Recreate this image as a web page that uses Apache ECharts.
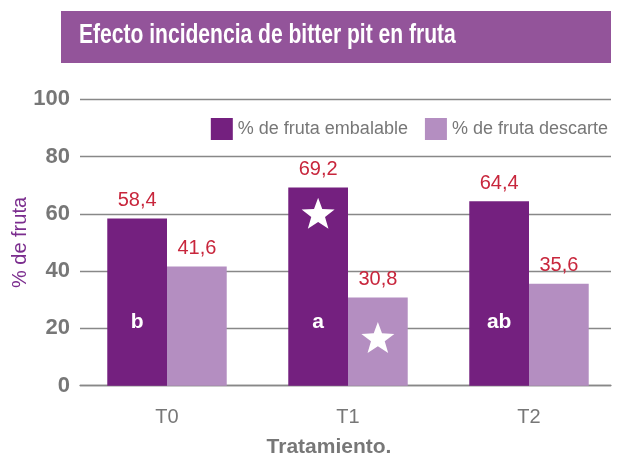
<!DOCTYPE html>
<html>
<head>
<meta charset="utf-8">
<script src="https://cdn.jsdelivr.net/npm/echarts@6/dist/echarts.min.js"></script>
<style>
  html,body{margin:0;padding:0;background:#fff;}
  #main{width:617px;height:455px;}
</style>
</head>
<body>
<div id="main"></div>
<script type="text/javascript">
// chart data
var categories = ['T0', 'T1', 'T2'];
var embalable = [58.4, 69.2, 64.4];
var descarte = [41.6, 30.8, 35.6];
var letters = ['b', 'a', 'ab'];
var letterLevel = 22;
// stars mark the significant treatment: [category, value]
var starEmbalable = [['T1', 60.2]];
var starDescarte = [['T1', 16.8]];

var starPath = 'path://M50,0 L62,33 L98,35 L70,57 L80,92 L50,72 L20,92 L30,57 L2,35 L38,33 Z';
var gray = '#777777';
var lineGray = '#888888';
var font = '"Liberation Sans", Arial, Helvetica, sans-serif';

function fmt(v){ return String(v).replace('.', ','); }

var myChart = echarts.init(document.getElementById('main'));
var option = {
  animation: false,
  textStyle: {fontFamily: font},
  graphic: [
    {type: 'rect', shape: {x: 61, y: 11, width: 550, height: 52}, style: {fill: '#93549a'}},
    {type: 'text', x: 79, y: 36, scaleX: 0.78, style: {
      text: 'Efecto incidencia de bitter pit en fruta', fill: '#ffffff',
      verticalAlign: 'middle',
      font: 'bold 27px ' + font}},
    {type: 'text', x: 329, y: 447, style: {
      text: 'Tratamiento.', fill: gray, align: 'center', verticalAlign: 'middle',
      font: 'bold 21px ' + font}}
  ],
  legend: {
    data: ['% de fruta embalable', '% de fruta descarte'],
    right: 4, top: 113,
    icon: 'rect', itemWidth: 22, itemHeight: 22, itemGap: 17,
    textStyle: {color: gray, fontSize: 18, fontFamily: font}
  },
  grid: [
    {left: 80, right: 6, top: 99.3, bottom: 69.3, outerBoundsMode: 'none', containLabel: false},
    {left: 76.5, width: 543, top: 99.3, bottom: 69.3, outerBoundsMode: 'none', containLabel: false}
  ],
  xAxis: [
    {type: 'category', gridIndex: 0, data: categories,
      axisLine: {lineStyle: {color: lineGray, width: 1.3}},
      axisTick: {show: false}, axisLabel: {show: false}},
    {type: 'category', gridIndex: 1, data: categories,
      axisLine: {show: false}, axisTick: {show: false},
      axisLabel: {color: gray, fontSize: 20, margin: 22, fontFamily: font}}
  ],
  yAxis: [
    {type: 'value', gridIndex: 0, min: 0, max: 100, interval: 20,
      name: '% de fruta', nameLocation: 'middle', nameGap: 50, nameMoveOverlap: false,
      nameTextStyle: {color: '#7b2d8e', fontSize: 20, fontFamily: font},
      axisLine: {show: false}, axisTick: {show: false},
      axisLabel: {color: gray, fontSize: 22, fontWeight: 'bold', margin: 10, fontFamily: font},
      splitLine: {lineStyle: {color: lineGray, width: 1.3}}},
    {type: 'value', gridIndex: 1, min: 0, max: 100, show: false}
  ],
  series: [
    {
      name: '% de fruta embalable', type: 'bar', xAxisIndex: 1, yAxisIndex: 1,
      data: embalable, barGap: '0%', barCategoryGap: '34%',
      itemStyle: {color: '#74207f'},
      label: {show: true, position: 'top', distance: 8, color: '#c8263c', fontSize: 20,
        fontFamily: font, formatter: function (p) { return fmt(p.value); }},
      markPoint: {
        silent: true,
        data: categories.map(function (c, i) {
          return {coord: [c, letterLevel], symbol: 'circle', symbolSize: 2,
            itemStyle: {color: 'rgba(0,0,0,0)'},
            label: {show: true, position: 'inside', formatter: letters[i], color: '#ffffff',
              fontSize: 21, fontWeight: 'bold', fontFamily: font}};
        }).concat(starEmbalable.map(function (s) {
          return {coord: s, symbol: starPath, symbolSize: [33, 31],
            itemStyle: {color: '#ffffff'}, label: {show: false}};
        }))
      }
    },
    {
      name: '% de fruta descarte', type: 'bar', xAxisIndex: 1, yAxisIndex: 1,
      data: descarte,
      itemStyle: {color: '#b48ec1'},
      label: {show: true, position: 'top', distance: 8, color: '#c8263c', fontSize: 20,
        fontFamily: font, formatter: function (p) { return fmt(p.value); }},
      markPoint: {
        silent: true,
        data: starDescarte.map(function (s) {
          return {coord: s, symbol: starPath, symbolSize: [33, 31],
            itemStyle: {color: '#ffffff'}, label: {show: false}};
        })
      }
    }
  ]
};
myChart.setOption(option);
window.addEventListener('resize', function () {
  myChart.resize();
});
</script>
</body>
</html>
